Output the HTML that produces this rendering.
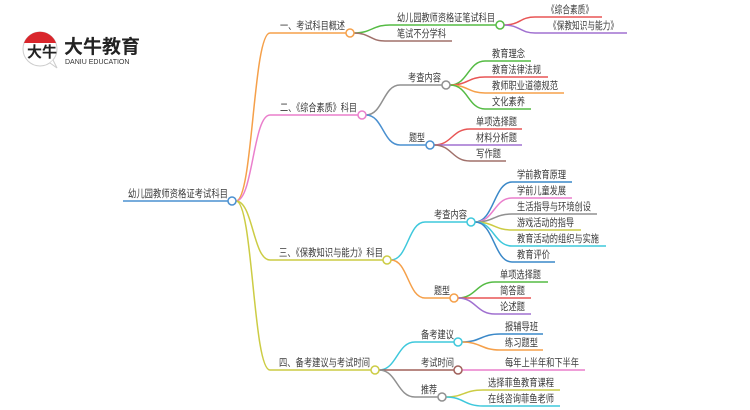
<!DOCTYPE html>
<html><head><meta charset="utf-8"><style>
html,body{margin:0;padding:0;background:#fff;}
svg{display:block;}
text{font-family:"Liberation Sans","Noto Sans CJK SC",sans-serif;font-size:10.5px;fill:#3a3a3a;}
path{fill:none;stroke-width:1.5;}
circle{fill:#fff;stroke-width:1.5;}
</style></head><body>
<svg width="750" height="410" viewBox="0 0 750 410" xmlns="http://www.w3.org/2000/svg">
<!-- logo -->
<circle cx="40" cy="49" r="17" style="fill:#fff;stroke:#ccc;stroke-width:1"/>
<path d="M24 43 A17 17 0 0 1 56 43 Z" style="fill:#d9262c;stroke:none"/>
<path d="M50 63 L57 68 L53 60" style="fill:#fff;stroke:#ccc;stroke-width:1"/>
<text x="27" y="57" style="font-size:15px;fill:#222;font-weight:bold">大牛</text>
<text x="64" y="53" style="font-size:19px;font-weight:bold;fill:#222">大牛教育</text>
<text x="65" y="64" style="font-size:7px;fill:#333">DANIU EDUCATION</text>

<!-- root -->
<path d="M123 201 L228 201" stroke="#4a90d0"/>
<text x="128" y="197" textLength="100" lengthAdjust="spacingAndGlyphs">幼儿园教师资格证考试科目</text>
<path d="M236 201 C253 201 253 33 270 33 L346 33" stroke="#f5a04a"/>
<path d="M236 201 C253 201 253 115 270 115 L358 115" stroke="#ea7fcc"/>
<path d="M236 201 C253 201 253 260 270 260 L383 260" stroke="#cccc44"/>
<path d="M236 201 C253 201 253 370 270 370 L371 370" stroke="#cccc44"/>
<circle cx="232" cy="201" r="4" stroke="#4a90d0"/>

<!-- B1 -->
<text x="280" y="29" textLength="65" lengthAdjust="spacingAndGlyphs">一、考试科目概述</text>
<path d="M354 33 C372 33 372 25 390 25 L496 25" stroke="#55bb44"/>
<path d="M354 33 C370 33 370 41 385 41 L452 41" stroke="#a0706a"/>
<circle cx="350" cy="33" r="4" stroke="#f5a04a"/>
<text x="397" y="21" textLength="98" lengthAdjust="spacingAndGlyphs">幼儿园教师资格证笔试科目</text>
<text x="397" y="37" textLength="49" lengthAdjust="spacingAndGlyphs">笔试不分学科</text>
<path d="M504 25 C520 25 520 17 535 17 L602 17" stroke="#e85555"/>
<path d="M504 25 C520 25 520 33 535 33 L627 33" stroke="#a070d0"/>
<circle cx="500" cy="25" r="4" stroke="#55bb44"/>
<text x="547" y="13" textLength="46" lengthAdjust="spacingAndGlyphs">《综合素质》</text>
<text x="549" y="29" textLength="69" lengthAdjust="spacingAndGlyphs">《保教知识与能力》</text>

<!-- B2 -->
<text x="280" y="111" textLength="77" lengthAdjust="spacingAndGlyphs">二、《综合素质》科目</text>
<path d="M366 115 C383 115 383 85 400 85 L442 85" stroke="#909090"/>
<path d="M366 115 C383 115 383 145 400 145 L426 145" stroke="#4a90d0"/>
<circle cx="362" cy="115" r="4" stroke="#ea7fcc"/>
<text x="408" y="81" textLength="33" lengthAdjust="spacingAndGlyphs">考查内容</text>
<text x="409" y="141" textLength="16" lengthAdjust="spacingAndGlyphs">题型</text>
<path d="M450 85 C468 85 468 61 485 61 L531 61" stroke="#55bb44"/>
<path d="M450 85 C468 85 468 77 485 77 L548 77" stroke="#e85555"/>
<path d="M450 85 C468 85 468 93 485 93 L564 93" stroke="#f5a04a"/>
<path d="M450 85 C468 85 468 109 485 109 L531 109" stroke="#55bb44"/>
<circle cx="446" cy="85" r="4" stroke="#909090"/>
<text x="492" y="57" textLength="33" lengthAdjust="spacingAndGlyphs">教育理念</text>
<text x="492" y="73" textLength="49" lengthAdjust="spacingAndGlyphs">教育法律法规</text>
<text x="492" y="89" textLength="66" lengthAdjust="spacingAndGlyphs">教师职业道德规范</text>
<text x="492" y="105" textLength="33" lengthAdjust="spacingAndGlyphs">文化素养</text>
<path d="M434 145 C452 145 452 129 470 129 L522 129" stroke="#e85555"/>
<path d="M434 145 L522 145" stroke="#a070d0"/>
<path d="M434 145 C452 145 452 161 470 161 L506 161" stroke="#a0706a"/>
<circle cx="430" cy="145" r="4" stroke="#4a90d0"/>
<text x="476" y="125" textLength="41" lengthAdjust="spacingAndGlyphs">单项选择题</text>
<text x="476" y="141" textLength="41" lengthAdjust="spacingAndGlyphs">材料分析题</text>
<text x="476" y="157" textLength="25" lengthAdjust="spacingAndGlyphs">写作题</text>

<!-- B3 -->
<text x="279" y="256" textLength="104" lengthAdjust="spacingAndGlyphs">三、《保教知识与能力》科目</text>
<path d="M391 260 C408 260 408 222 425 222 L467 222" stroke="#3ec8dc"/>
<path d="M391 260 C408 260 408 298 425 298 L450 298" stroke="#f5a04a"/>
<circle cx="387" cy="260" r="4" stroke="#cccc44"/>
<text x="434" y="218" textLength="33" lengthAdjust="spacingAndGlyphs">考查内容</text>
<text x="434" y="294" textLength="16" lengthAdjust="spacingAndGlyphs">题型</text>
<path d="M475 222 C494 222 494 182 512 182 L572 182" stroke="#3a88c8"/>
<path d="M475 222 C494 222 494 198 512 198 L572 198" stroke="#ea7fcc"/>
<path d="M475 222 C494 222 494 214 512 214 L597 214" stroke="#909090"/>
<path d="M475 222 C494 222 494 230 512 230 L581 230" stroke="#cccc44"/>
<path d="M475 222 C494 222 494 246 512 246 L606 246" stroke="#3ec8dc"/>
<path d="M475 222 C494 222 494 262 512 262 L555 262" stroke="#3a88c8"/>
<circle cx="471" cy="222" r="4" stroke="#3ec8dc"/>
<text x="517" y="178" textLength="49" lengthAdjust="spacingAndGlyphs">学前教育原理</text>
<text x="517" y="194" textLength="49" lengthAdjust="spacingAndGlyphs">学前儿童发展</text>
<text x="517" y="210" textLength="74" lengthAdjust="spacingAndGlyphs">生活指导与环境创设</text>
<text x="517" y="226" textLength="57" lengthAdjust="spacingAndGlyphs">游戏活动的指导</text>
<text x="517" y="242" textLength="82" lengthAdjust="spacingAndGlyphs">教育活动的组织与实施</text>
<text x="517" y="258" textLength="33" lengthAdjust="spacingAndGlyphs">教育评价</text>
<path d="M458 298 C476 298 476 282 495 282 L548 282" stroke="#55bb44"/>
<path d="M458 298 L531 298" stroke="#e85555"/>
<path d="M458 298 C476 298 476 314 495 314 L531 314" stroke="#a070d0"/>
<circle cx="454" cy="298" r="4" stroke="#f5a04a"/>
<text x="500" y="278" textLength="41" lengthAdjust="spacingAndGlyphs">单项选择题</text>
<text x="500" y="294" textLength="25" lengthAdjust="spacingAndGlyphs">简答题</text>
<text x="500" y="310" textLength="25" lengthAdjust="spacingAndGlyphs">论述题</text>

<!-- B4 -->
<text x="279" y="366" textLength="91" lengthAdjust="spacingAndGlyphs">四、备考建议与考试时间</text>
<path d="M379 370 C397 370 397 342 415 342 L454 342" stroke="#3ec8dc"/>
<path d="M379 370 L454 370" stroke="#a0605a"/>
<path d="M379 370 C397 370 397 397 415 397 L438 397" stroke="#909090"/>
<circle cx="375" cy="370" r="4" stroke="#cccc44"/>
<text x="421" y="338" textLength="33" lengthAdjust="spacingAndGlyphs">备考建议</text>
<text x="421" y="366" textLength="33" lengthAdjust="spacingAndGlyphs">考试时间</text>
<text x="421" y="393" textLength="16" lengthAdjust="spacingAndGlyphs">推荐</text>
<path d="M462 342 C481 342 481 334 500 334 L543 334" stroke="#3a88c8"/>
<path d="M462 342 C481 342 481 350 500 350 L543 350" stroke="#f5a04a"/>
<circle cx="458" cy="342" r="4" stroke="#3ec8dc"/>
<text x="505" y="330" textLength="33" lengthAdjust="spacingAndGlyphs">报辅导班</text>
<text x="505" y="346" textLength="33" lengthAdjust="spacingAndGlyphs">练习题型</text>
<path d="M462 370 L585 370" stroke="#ea7fcc"/>
<circle cx="458" cy="370" r="4" stroke="#a0605a"/>
<text x="505" y="366" textLength="74" lengthAdjust="spacingAndGlyphs">每年上半年和下半年</text>
<path d="M446 397 C464 397 464 390 483 390 L560 390" stroke="#cccc44"/>
<path d="M446 397 C464 397 464 406 483 406 L560 406" stroke="#3ec8dc"/>
<circle cx="442" cy="397" r="4" stroke="#909090"/>
<text x="488" y="386" textLength="66" lengthAdjust="spacingAndGlyphs">选择菲鱼教育课程</text>
<text x="488" y="402" textLength="66" lengthAdjust="spacingAndGlyphs">在线咨询菲鱼老师</text>
</svg>
</body></html>
